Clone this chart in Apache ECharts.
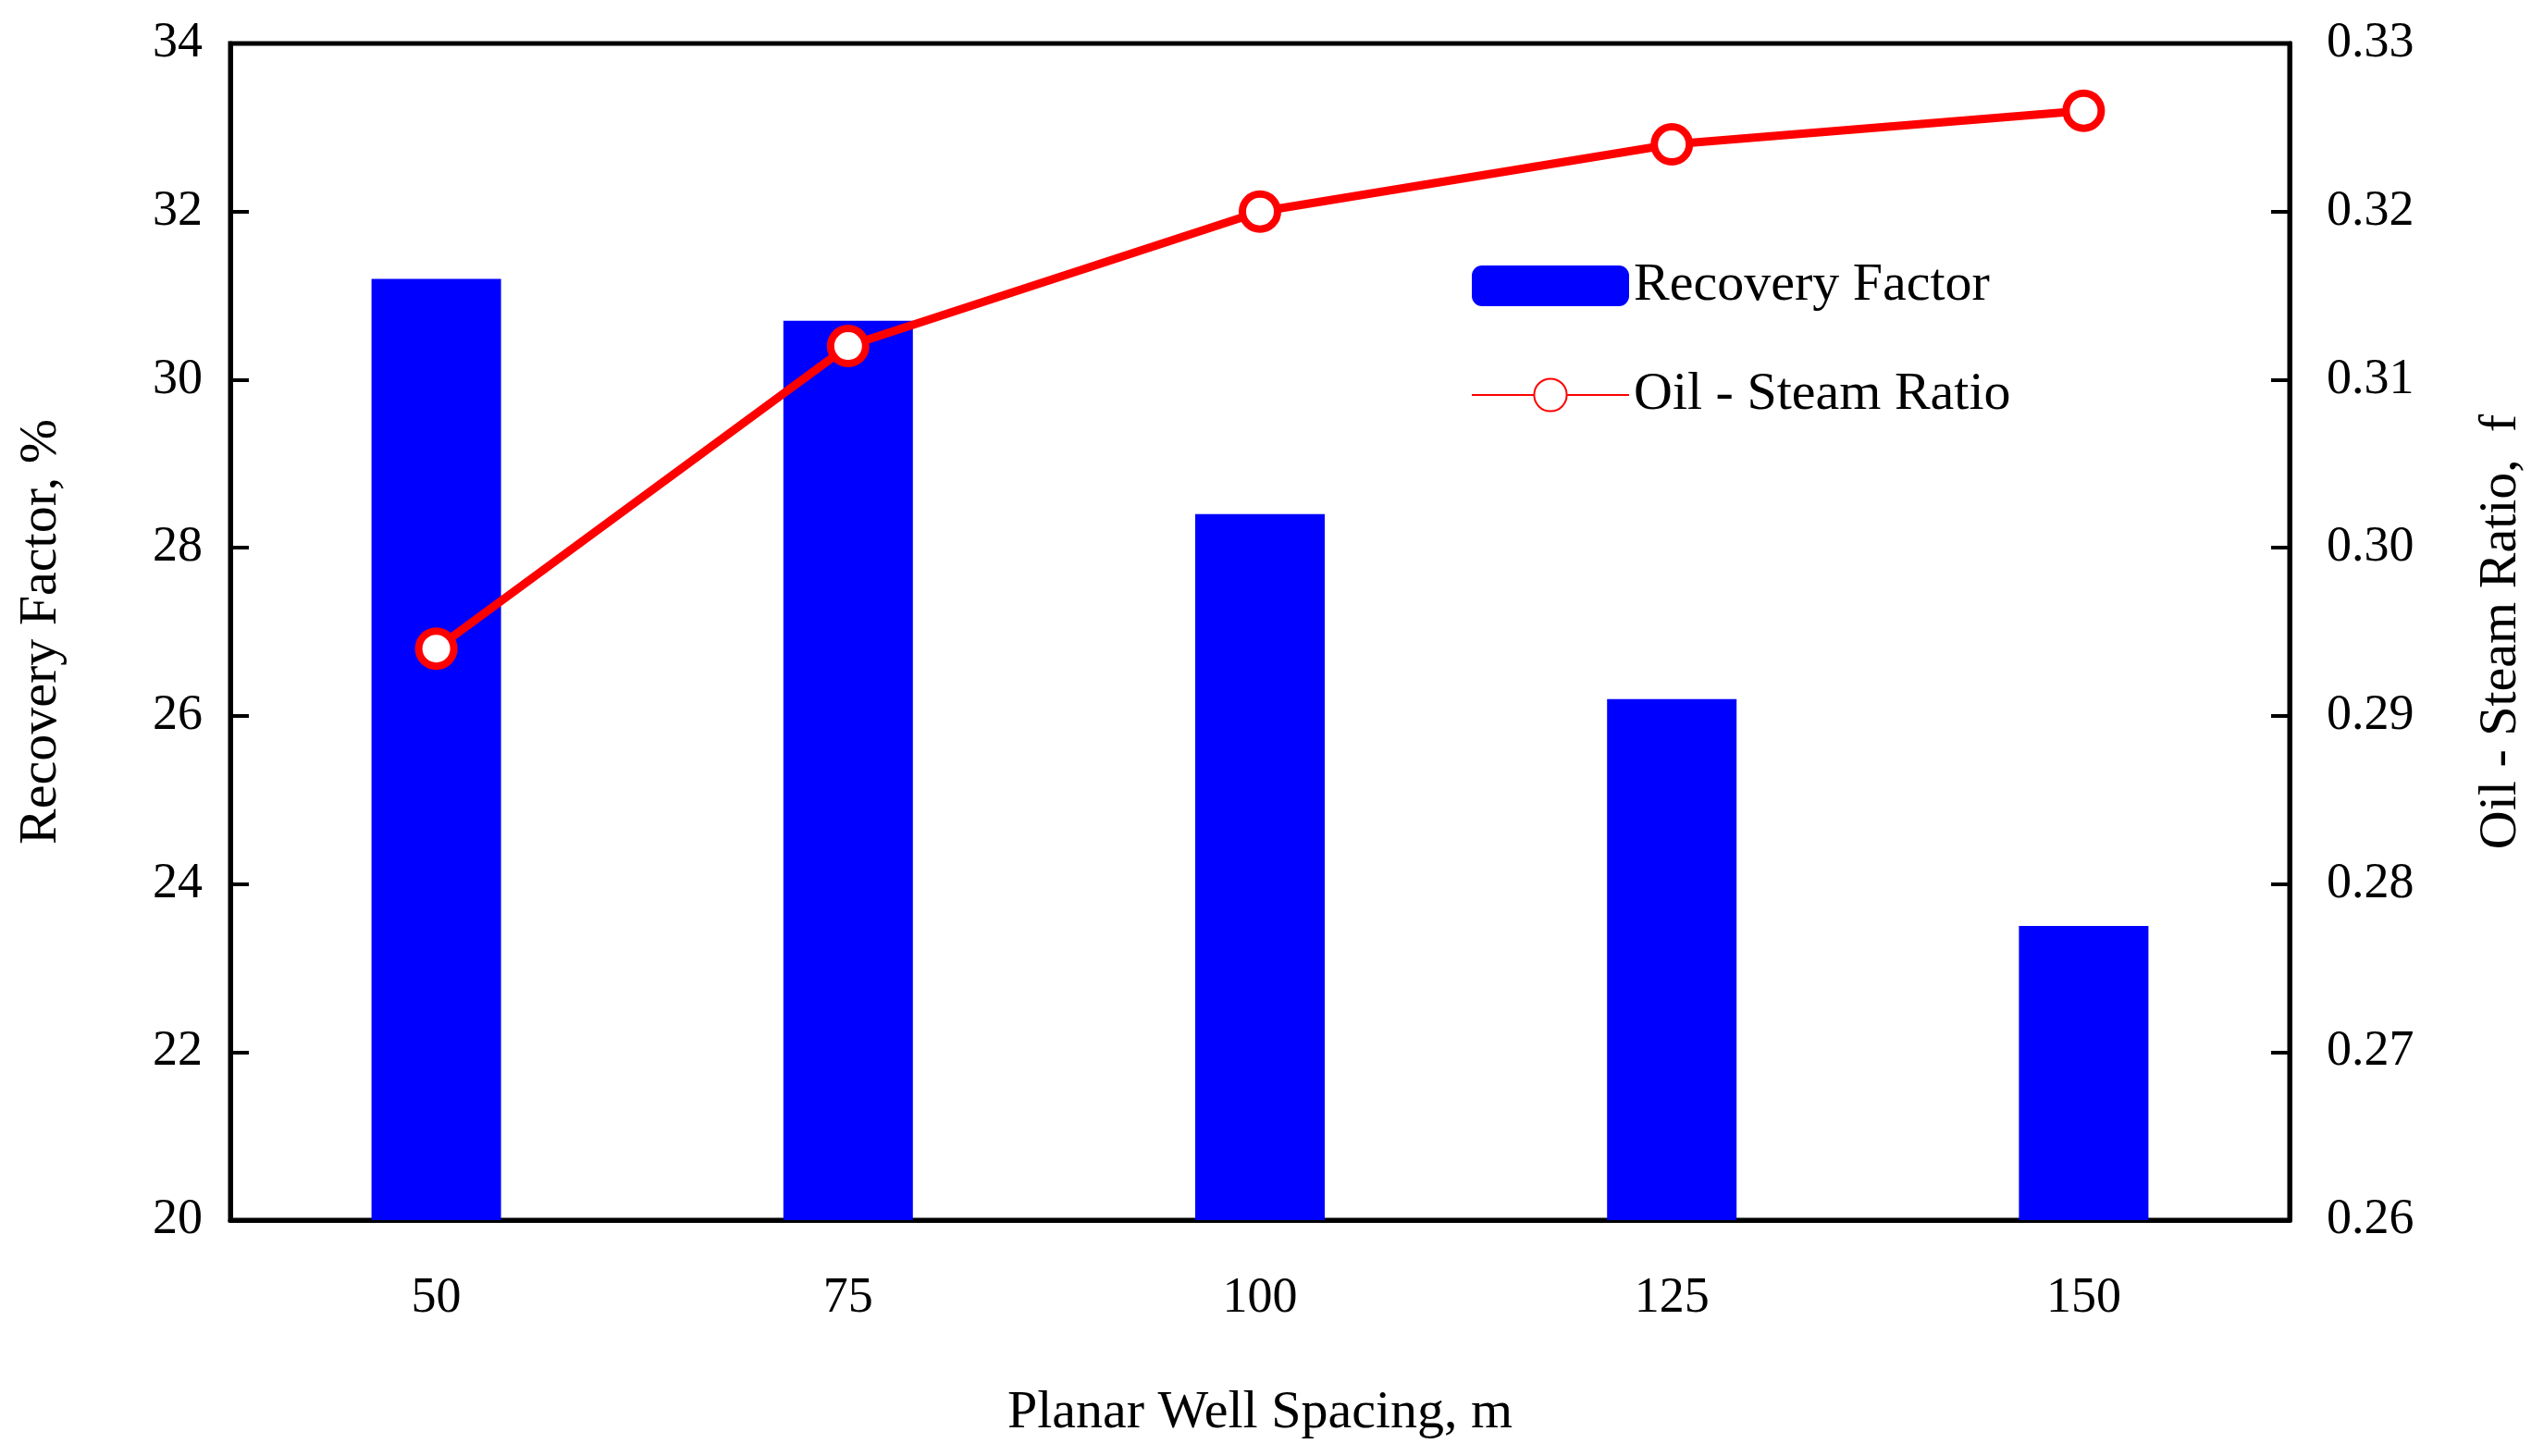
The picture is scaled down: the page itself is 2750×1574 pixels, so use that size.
<!DOCTYPE html>
<html><head><meta charset="utf-8">
<script src="https://cdn.jsdelivr.net/npm/echarts@6/dist/echarts.min.js"></script>
<style>html,body{margin:0;background:#fff}#c{width:2750px;height:1574px}</style>
</head><body><div id="c"></div>
<script>
const spacing = ['50', '75', '100', '125', '150'];
const recovery = [31.2, 30.7, 28.4, 26.2, 23.5];
const osr = [0.294, 0.312, 0.320, 0.324, 0.326];

const font = 'Liberation Serif';
const chart = echarts.init(document.getElementById('c'));
chart.setOption({
    animation: false,
    textStyle: { fontFamily: font, color: '#000' },
    grid: { left: 249, right: 275, top: 47, bottom: 255, show: true, borderColor: '#000', borderWidth: 5 },
    legend: {
        orient: 'vertical', left: 1585, top: 275, itemGap: 60, itemWidth: 170, itemHeight: 44,
        textStyle: { fontFamily: font, fontSize: 58, color: '#000' },
        data: [{ name: 'Recovery Factor' }, { name: 'Oil - Steam Ratio' }]
    },
    xAxis: {
        type: 'category', data: spacing,
        name: 'Planar Well Spacing, m', nameLocation: 'middle', nameGap: 180,
        nameTextStyle: { fontSize: 58, fontFamily: font },
        axisLine: { lineStyle: { color: '#000', width: 5 } },
        axisTick: { inside: true, length: 20, lineStyle: { width: 4 } },
        axisLabel: { fontSize: 54, margin: 58, color: '#000', fontFamily: font }
    },
    yAxis: [{
        type: 'value', min: 20, max: 34, interval: 2,
        name: 'Recovery Factor, %', nameLocation: 'middle', nameGap: 175,
        nameTextStyle: { fontSize: 58, fontFamily: font },
        axisLine: { show: true, lineStyle: { color: '#000', width: 5 } },
        axisTick: { show: true, inside: true, length: 20, lineStyle: { width: 4 } },
        axisLabel: { fontSize: 54, margin: 30, color: '#000', fontFamily: font },
        splitLine: { show: false }
    }, {
        type: 'value', min: 0.26, max: 0.33, interval: 0.01,
        name: 'Oil - Steam Ratio,  f', nameLocation: 'middle', nameGap: 200, nameRotate: 90,
        nameTextStyle: { fontSize: 58, fontFamily: font },
        axisLine: { show: true, lineStyle: { color: '#000', width: 5 } },
        axisTick: { show: true, inside: true, length: 20, lineStyle: { width: 4 } },
        axisLabel: { fontSize: 54, margin: 40, color: '#000', fontFamily: font, formatter: v => v.toFixed(2) },
        splitLine: { show: false }
    }],
    series: [{
        name: 'Recovery Factor', type: 'bar', data: recovery, barWidth: 140,
        itemStyle: { color: '#0000ff' }
    }, {
        name: 'Oil - Steam Ratio', type: 'line', yAxisIndex: 1, data: osr,
        symbol: 'circle', symbolSize: 38,
        lineStyle: { color: '#ff0000', width: 9 },
        itemStyle: { color: '#fff', borderColor: '#ff0000', borderWidth: 8 }
    }]
});
</script></body></html>
